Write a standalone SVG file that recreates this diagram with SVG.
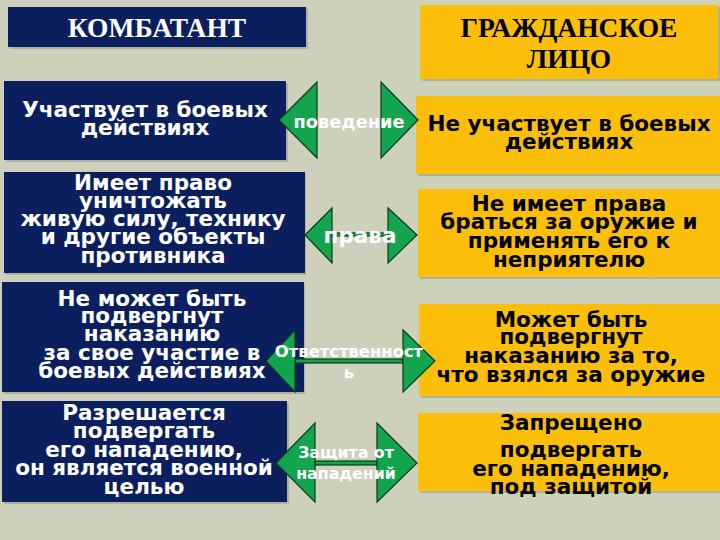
<svg xmlns="http://www.w3.org/2000/svg" width="720" height="540" viewBox="0 0 720 540">
<style>
.bg{fill:#cdd0bb}
.navy{fill:#0b1f5e}
.gold{fill:#fbbf0a}
.shadow{fill:#8a8c7c;opacity:0.45}
.hdr{font-family:"Liberation Serif","Times New Roman",serif;font-weight:bold;font-size:27.5px;text-anchor:middle}
.t{font-family:"DejaVu Sans",Verdana,sans-serif;font-weight:bold;font-size:21.5px;text-anchor:middle}
.w{fill:#ffffff}
.k{fill:#000000}
.arr{fill:#12a54d;stroke:#0c3a1c;stroke-width:1.2}
.lbl{font-family:"DejaVu Sans",Verdana,sans-serif;font-weight:bold;fill:#ffffff;text-anchor:middle}
</style>
<rect class="bg" x="0" y="0" width="720" height="540"/>

<g id="hdr-left">
<rect class="shadow" x="10" y="9" width="298" height="40"/>
<rect class="navy" x="8" y="7" width="298" height="40"/>
<text class="hdr w" x="157" y="37">КОМБАТАНТ</text>
</g>
<g id="hdr-right">
<rect class="shadow" x="422" y="7" width="298" height="74"/>
<rect class="gold" x="420" y="5" width="298" height="74"/>
<text class="hdr k" x="569" y="37">ГРАЖДАНСКОЕ</text>
<text class="hdr k" x="569" y="68">ЛИЦО</text>
</g>

<g id="left1">
<rect class="shadow" x="6" y="83" width="282" height="79"/>
<rect class="navy" x="4" y="81" width="282" height="79"/>
<text class="t w" x="145" y="117">Участвует в боевых</text>
<text class="t w" x="145" y="135">действиях</text>
</g>
<g id="right1">
<rect class="shadow" x="418" y="98" width="302" height="78"/>
<rect class="gold" x="416" y="96" width="304" height="78"/>
<text class="t k" x="569" y="131">Не участвует в боевых</text>
<text class="t k" x="569" y="149">действиях</text>
</g>

<g id="left2">
<rect class="shadow" x="6" y="174" width="300" height="101"/>
<rect class="navy" x="4" y="172" width="301" height="101"/>
<text class="t w" x="153" y="190">Имеет право</text>
<text class="t w" x="153" y="208">уничтожать</text>
<text class="t w" x="153" y="226">живую силу, технику</text>
<text class="t w" x="153" y="244">и другие объекты</text>
<text class="t w" x="153" y="263">противника</text>
</g>
<g id="right2">
<rect class="shadow" x="420" y="191" width="300" height="88"/>
<rect class="gold" x="418" y="189" width="302" height="88"/>
<text class="t k" x="569" y="211">Не имеет права</text>
<text class="t k" x="569" y="229">браться за оружие и</text>
<text class="t k" x="569" y="248">применять его к</text>
<text class="t k" x="569" y="267">неприятелю</text>
</g>

<g id="left3">
<rect class="shadow" x="4" y="284" width="301" height="110"/>
<rect class="navy" x="2" y="282" width="302" height="110"/>
<text class="t w" x="152" y="306">Не может быть</text>
<text class="t w" x="152" y="323">подвергнут</text>
<text class="t w" x="152" y="341">наказанию</text>
<text class="t w" x="152" y="360">за свое участие в</text>
<text class="t w" x="152" y="378">боевых действиях</text>
</g>
<g id="right3">
<rect class="shadow" x="421" y="306" width="299" height="92"/>
<rect class="gold" x="419" y="304" width="301" height="92"/>
<text class="t k" x="571" y="327">Может быть</text>
<text class="t k" x="571" y="344">подвергнут</text>
<text class="t k" x="571" y="363">наказанию за то,</text>
<text class="t k" x="571" y="382">что взялся за оружие</text>
</g>

<g id="left4">
<rect class="shadow" x="4" y="403" width="285" height="101"/>
<rect class="navy" x="2" y="401" width="285" height="101"/>
<text class="t w" x="144" y="420">Разрешается</text>
<text class="t w" x="144" y="438">подвергать</text>
<text class="t w" x="144" y="457">его нападению,</text>
<text class="t w" x="144" y="475">он является военной</text>
<text class="t w" x="144" y="494">целью</text>
</g>
<g id="right4">
<rect class="shadow" x="420" y="415" width="300" height="78"/>
<rect class="gold" x="418" y="413" width="302" height="78"/>
<text class="t k" x="571" y="430">Запрещено</text>
<text class="t k" x="571" y="457">подвергать</text>
<text class="t k" x="571" y="476">его нападению,</text>
<text class="t k" x="571" y="494">под защитой</text>
</g>

<g id="connectors">
<g id="arrow1">
<polygon class="arr" points="279,120 317,82 317,158"/>
<polygon class="arr" points="418,120 381,82 381,158"/>
<text class="lbl" x="349" y="128" font-size="17.8">поведение</text>
</g>
<g id="arrow2">
<rect class="arr" x="332" y="233" width="56" height="3"/>
<polygon class="arr" points="305,235 332,208 332,263"/>
<polygon class="arr" points="417,235 388,208 388,263"/>
<text class="lbl" x="360" y="243" font-size="21.5">права</text>
</g>
<g id="arrow3">
<rect class="arr" x="295" y="359" width="108" height="4"/>
<polygon class="arr" points="266,361 295,330 295,392"/>
<polygon class="arr" points="435,361 403,330 403,392"/>
<text class="lbl" x="349" y="357" font-size="16.4">Ответственност</text>
<text class="lbl" x="349" y="378" font-size="16.4">ь</text>
</g>
<g id="arrow4">
<rect class="arr" x="315" y="461" width="62" height="4"/>
<polygon class="arr" points="276,463 315,423 315,502"/>
<polygon class="arr" points="417,463 377,423 377,502"/>
<text class="lbl" x="346" y="458" font-size="15.8">Защита от</text>
<text class="lbl" x="346" y="479" font-size="15.8">нападений</text>
</g>
</g>
</svg>
